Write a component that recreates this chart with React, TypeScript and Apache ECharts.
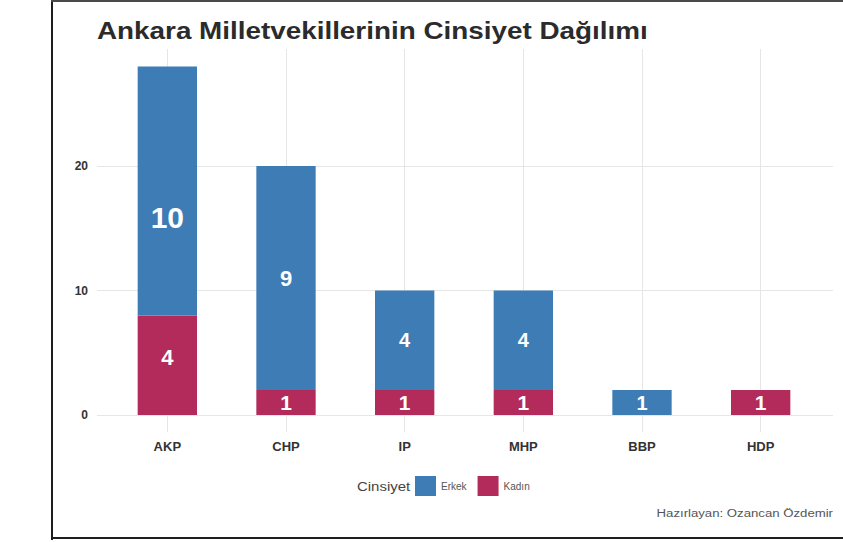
import React, { useEffect, useRef } from "react";
import * as echarts from "echarts";

// ---- data ----
const parties = ["AKP", "CHP", "IP", "MHP", "BBP", "HDP"];
// bar heights as plotted on the y scale
const erkekHeights: (number | null)[] = [20, 18, 8, 8, 2, null];
const kadinHeights: (number | null)[] = [8, 2, 2, 2, null, 2];
// counts printed inside the bars
const erkekCounts: (number | null)[] = [10, 9, 4, 4, 1, null];
const kadinCounts: (number | null)[] = [4, 1, 1, 1, null, 1];
const yTicks = [0, 10, 20];

const titleText = "Ankara Milletvekillerinin Cinsiyet Dağılımı";
const legendTitle = "Cinsiyet";
const captionText = "Hazırlayan: Ozancan Özdemir";

// ---- styles ----
const FONT = "'Liberation Sans', Arial, sans-serif";
const BLUE = "#3E7CB5";
const RED = "#B22B5A";
const GRID = "#e6e6e6";
const erkekLabelSizes = [30, 22, 20, 20, 20, 20];
const kadinLabelSizes = [22, 21, 21, 21, 21, 21];
const erkekLabelOffsets = [[0, 27], [0, 0], [0, 0], [0, 0], [0, 0], [0, 0]];
const kadinLabelOffsets = [[0, -8], [0, 0], [0, 0], [0, 0], [0, 0], [0, 0]];

function buildData(
  heights: (number | null)[],
  counts: (number | null)[],
  sizes: number[],
  offsets: number[][]
) {
  return heights.map((h, i) => ({
    value: h == null ? "-" : h,
    count: counts[i],
    label: {
      show: counts[i] != null,
      fontSize: sizes[i],
      offset: offsets[i],
    },
  }));
}

export default function App() {
  const ref = useRef<HTMLDivElement>(null);

  useEffect(() => {
    if (!ref.current) return;
    const chart = echarts.init(ref.current, undefined, { renderer: "svg" });
    const labelCommon = {
      show: true,
      position: "inside",
      color: "#ffffff",
      fontWeight: "bold",
      fontFamily: FONT,
      formatter: (p: any) => (p.data && p.data.count != null ? String(p.data.count) : ""),
    };
    chart.setOption({
      animation: false,
      backgroundColor: "#ffffff",
      textStyle: { fontFamily: FONT },
      graphic: [
        {
          type: "text",
          x: 97,
          y: 31,
          scaleX: 1.16,
          style: {
            text: titleText,
            font: `bold 24px ${FONT}`,
            fill: "#2b2b2b",
            verticalAlign: "middle",
          },
        },
        {
          type: "text",
          x: 357,
          y: 486,
          scaleX: 1.15,
          style: {
            text: legendTitle,
            font: `13px ${FONT}`,
            fill: "#444",
            verticalAlign: "middle",
          },
        },
        {
          type: "text",
          x: 833,
          y: 513,
          scaleX: 1.2,
          style: {
            text: captionText,
            font: `11px ${FONT}`,
            fill: "#555",
            align: "right",
            verticalAlign: "middle",
          },
        },
      ],
      legend: {
        data: ["Erkek", "Kadın"],
        left: 415,
        top: 476,
        padding: 0,
        icon: "rect",
        itemWidth: 21,
        itemHeight: 20,
        itemGap: 11,
        textStyle: { fontSize: 10, color: "#555", fontFamily: FONT },
      },
      grid: [
        // bars
        { left: 108, right: 23, top: 41.5, bottom: 127 },
        // horizontal grid lines + y labels (full panel width)
        { left: 97, right: 10, top: 41.5, bottom: 127 },
        // vertical grid lines (full panel height)
        { left: 108, right: 23, top: 49, bottom: 110 },
      ],
      xAxis: [
        {
          type: "category",
          gridIndex: 0,
          data: parties,
          axisLine: { show: false },
          axisTick: { show: false },
          axisLabel: {
            margin: 25,
            fontSize: 13,
            fontWeight: "bold",
            color: "#333",
            fontFamily: FONT,
          },
          splitLine: { show: false },
        },
        { type: "value", gridIndex: 1, show: false, min: 0, max: 1 },
        {
          type: "category",
          gridIndex: 2,
          data: parties,
          axisLine: { show: false },
          axisLabel: { show: false },
          axisTick: {
            show: true,
            alignWithLabel: true,
            inside: true,
            length: 383,
            lineStyle: { color: GRID, width: 1 },
          },
          splitLine: { show: false },
        },
      ],
      yAxis: [
        { type: "value", gridIndex: 0, min: 0, max: 30, interval: 10, show: false },
        {
          type: "value",
          gridIndex: 1,
          min: 0,
          max: 30,
          interval: 10,
          axisLine: { show: false },
          axisTick: { show: false },
          axisLabel: {
            margin: 9,
            fontSize: 12,
            fontWeight: "bold",
            color: "#333",
            fontFamily: FONT,
            showMaxLabel: false,
            formatter: (v: number) => (yTicks.indexOf(v) >= 0 ? String(v) : ""),
          },
          splitLine: {
            show: true,
            showMaxLine: false,
            lineStyle: { color: GRID, width: 1 },
          },
        },
        { type: "value", gridIndex: 2, min: 0, max: 1, show: false },
      ],
      series: [
        {
          name: "Kadın",
          type: "bar",
          stack: "total",
          xAxisIndex: 0,
          yAxisIndex: 0,
          barWidth: "50%",
          itemStyle: { color: RED },
          label: labelCommon,
          data: buildData(kadinHeights, kadinCounts, kadinLabelSizes, kadinLabelOffsets),
        },
        {
          name: "Erkek",
          type: "bar",
          stack: "total",
          xAxisIndex: 0,
          yAxisIndex: 0,
          barWidth: "50%",
          itemStyle: { color: BLUE },
          label: labelCommon,
          data: buildData(erkekHeights, erkekCounts, erkekLabelSizes, erkekLabelOffsets),
        },
      ],
    });
    return () => chart.dispose();
  }, []);

  return (
    <div
      style={{
        position: "fixed",
        left: 0,
        top: 0,
        width: 843,
        height: 542,
        background: "#ffffff",
        overflow: "hidden",
      }}
    >
      <div ref={ref} style={{ position: "absolute", left: 0, top: 0, width: 843, height: 542 }} />
      <div style={{ position: "absolute", left: 51, top: 0, width: 2, height: 540, background: "#1e1e1e" }} />
      <div style={{ position: "absolute", left: 51, top: 0, width: 792, height: 2, background: "#4a4a4a" }} />
      <div style={{ position: "absolute", left: 51, top: 537, width: 792, height: 2, background: "#1e1e1e" }} />
    </div>
  );
}
